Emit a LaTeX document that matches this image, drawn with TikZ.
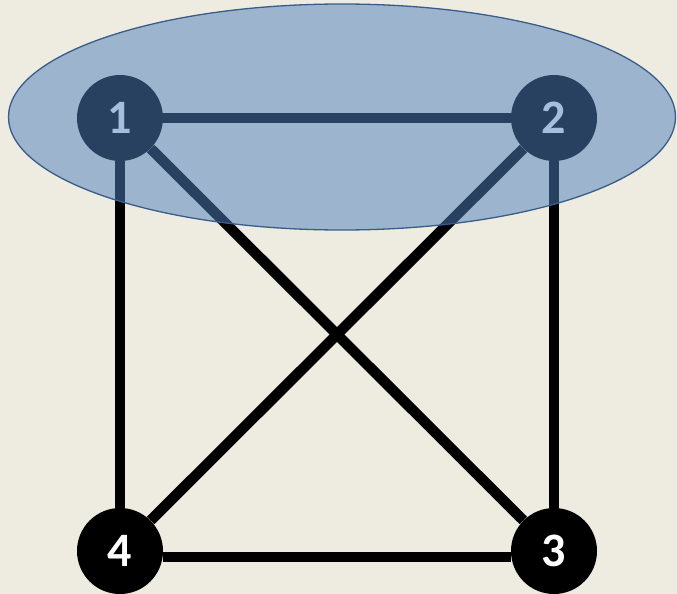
\documentclass[tikz,border=0pt]{standalone}
\usepackage{fontspec}
\setmainfont{Carlito}
\usepackage{tikz}
\usetikzlibrary{shapes.geometric}

\definecolor{paper}{HTML}{EEEBE0}
\definecolor{blobblue}{HTML}{4F81BD}
\definecolor{blobedge}{HTML}{385D8A}

\begin{document}
\begin{tikzpicture}[x=1pt,y=-1pt,
    vertex/.style={circle,fill=black,minimum size=86pt,inner sep=0pt,
        text=white,font=\fontsize{48}{48}\selectfont\bfseries},
    link/.style={line width=10.5pt}]
            \fill[paper] (0,0) rectangle (677,594);
            \useasboundingbox (0,0) rectangle (677,594);
            \node[vertex] (v1) at (120,118) {1};
            \node[vertex] (v2) at (554,118) {2};
            \node[vertex] (v3) at (554,551) {3};
            \node[vertex] (v4) at (120,551) {4};
            \foreach \a/\b in {v1/v2,v1/v4,v2/v3,v1/v3,v2/v4} {
                \draw[link] (\a) -- (\b);
            }
            \draw[link] ([yshift=-6pt]v4.east) -- ([yshift=-6pt]v3.west);
            \node[ellipse,draw=blobedge,line width=1.3pt,fill=blobblue,
                fill opacity=0.51,minimum width=667pt,minimum height=226pt,
                inner sep=0pt] (group) at (342,117) {};
        \end{tikzpicture}
\end{document}
